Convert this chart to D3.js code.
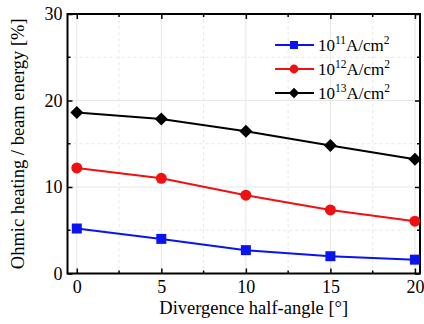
<!DOCTYPE html>
<html>
<head>
<meta charset="utf-8">
<script src="https://cdn.jsdelivr.net/npm/d3@7"></script>
<style>
  html, body { margin: 0; padding: 0; background: #fff; }
  svg { display: block; }
  text { font-family: 'Liberation Serif', 'Times New Roman', Times, 'DejaVu Serif', serif !important; fill: #000; }
</style>
</head>
<body>
<svg id="chart" width="424" height="324"></svg>
<script>
// Divergence half-angle (degrees)
const angles = [0, 5, 10, 15, 20];
// Ohmic heating fraction of beam energy (%) per beam intensity
const series1e11 = [5.2, 4.0, 2.7, 2.0, 1.6];
const series1e12 = [12.2, 11.0, 9.05, 7.35, 6.05];
const series1e13 = [18.6, 17.85, 16.45, 14.8, 13.2];
const seriesExp = ["11", "12", "13"];
const seriesColors = ["#0a14f0", "#f01010", "#000000"];
const seriesShapes = ["square", "circle", "diamond"];
const xTicks = [0, 5, 10, 15, 20];
const yTicks = [0, 10, 20, 30];

const series = [series1e11, series1e12, series1e13].map((vals, i) => ({
  exp: seriesExp[i], color: seriesColors[i], shape: seriesShapes[i],
  pts: angles.map((a, j) => ({ x: a, y: vals[j] }))
}));

const svg = d3.select("#chart");
const L = 67.5, R = 420, T = 14, B = 273.5;
const x = d3.scaleLinear().domain([-0.55, 20.3]).range([L, R]);
const y = d3.scaleLinear().domain([0, 30]).range([B, T]);

// Grid: solid at major ticks, dashed at minor ticks
const g = svg.append("g");
const xMinor = [2.5, 7.5, 12.5, 17.5];
const yMinor = [5, 15, 25];
g.selectAll(".vx").data(xTicks).join("line")
  .attr("x1", d => x(d)).attr("x2", d => x(d)).attr("y1", T).attr("y2", B)
  .attr("stroke", "#e6e6e6").attr("stroke-width", 1);
g.selectAll(".vxm").data(xMinor).join("line")
  .attr("x1", d => x(d)).attr("x2", d => x(d)).attr("y1", T).attr("y2", B)
  .attr("stroke", "#e6e6e6").attr("stroke-width", 1).attr("stroke-dasharray", "3,3");
g.selectAll(".hy").data([10, 20]).join("line")
  .attr("x1", L).attr("x2", R).attr("y1", d => y(d)).attr("y2", d => y(d))
  .attr("stroke", "#e6e6e6").attr("stroke-width", 1);
g.selectAll(".hym").data(yMinor).join("line")
  .attr("x1", L).attr("x2", R).attr("y1", d => y(d)).attr("y2", d => y(d))
  .attr("stroke", "#e6e6e6").attr("stroke-width", 1).attr("stroke-dasharray", "3,3");

// Axes with inward ticks on all four sides
const tickIn = 5, minorIn = 3;
function axisBox() {
  const bottom = d3.axisBottom(x).tickValues(xTicks).tickSize(-tickIn).tickPadding(7).tickFormat(d3.format("d"));
  const left = d3.axisLeft(y).tickValues(yTicks).tickSize(-tickIn).tickPadding(5).tickFormat(d3.format("d"));
  const top = d3.axisTop(x).tickValues(xTicks).tickSize(-tickIn).tickFormat("");
  const right = d3.axisRight(y).tickValues(yTicks).tickSize(-tickIn).tickFormat("");
  const gb = svg.append("g").attr("transform", `translate(0,${B})`).call(bottom);
  const gl = svg.append("g").attr("transform", `translate(${L},0)`).call(left);
  const gt = svg.append("g").attr("transform", `translate(0,${T})`).call(top);
  const gr = svg.append("g").attr("transform", `translate(${R},0)`).call(right);
  // minor ticks
  gb.selectAll(".mn").data(xMinor).join("line").attr("x1", d => x(d)).attr("x2", d => x(d)).attr("y1", 0).attr("y2", -minorIn).attr("stroke", "#000").attr("stroke-width", 1.5);
  gt.selectAll(".mn").data(xMinor).join("line").attr("x1", d => x(d)).attr("x2", d => x(d)).attr("y1", 0).attr("y2", minorIn).attr("stroke", "#000").attr("stroke-width", 1.5);
  gl.selectAll(".mn").data(yMinor).join("line").attr("y1", d => y(d)).attr("y2", d => y(d)).attr("x1", 0).attr("x2", minorIn).attr("stroke", "#000").attr("stroke-width", 1.5);
  gr.selectAll(".mn").data(yMinor).join("line").attr("y1", d => y(d)).attr("y2", d => y(d)).attr("x1", 0).attr("x2", -minorIn).attr("stroke", "#000").attr("stroke-width", 1.5);
  [gb, gl, gt, gr].forEach(a => {
    a.attr("font-family", null).attr("font-size", null);
    a.select(".domain").remove();
    a.selectAll(".tick line").attr("stroke", "#000").attr("stroke-width", 1.5);
    a.selectAll("text").style("font-size", "18px");
  });
}
axisBox();

// Frame
svg.append("rect").attr("x", L).attr("y", T).attr("width", R - L).attr("height", B - T)
  .attr("fill", "none").attr("stroke", "#000").attr("stroke-width", 2);

// Markers
function marker(sel, shape, color, cx, cy, s) {
  if (shape === "square") {
    sel.append("rect").attr("x", cx - s).attr("y", cy - s).attr("width", s * 2).attr("height", s * 2).attr("fill", color);
  } else if (shape === "circle") {
    sel.append("circle").attr("cx", cx).attr("cy", cy).attr("r", s * 1.1).attr("fill", color);
  } else {
    const d = s * 1.3;
    sel.append("path").attr("d", `M${cx},${cy - d}L${cx + d},${cy}L${cx},${cy + d}L${cx - d},${cy}Z`).attr("fill", color);
  }
}

const line = d3.line().x(d => x(d.x)).y(d => y(d.y));
series.forEach(s => {
  svg.append("path").datum(s.pts).attr("d", line).attr("fill", "none")
    .attr("stroke", s.color).attr("stroke-width", 2);
  const mg = svg.append("g");
  s.pts.forEach(p => marker(mg, s.shape, s.color, x(p.x), y(p.y), 5));
});

// Legend
const lg = svg.append("g");
series.forEach((s, i) => {
  const ly = 45 + i * 24;
  lg.append("line").attr("x1", 275).attr("x2", 314).attr("y1", ly).attr("y2", ly)
    .attr("stroke", s.color).attr("stroke-width", 2);
  marker(lg, s.shape, s.color, 294, ly, 4);
  const t = lg.append("text").attr("x", 318).attr("y", ly + 6).style("font-size", "17px");
  t.append("tspan").text("10");
  t.append("tspan").attr("dy", -7).style("font-size", "11.5px").text(s.exp);
  t.append("tspan").attr("dy", 7).text("A/cm");
  t.append("tspan").attr("dy", -7).style("font-size", "11.5px").text("2");
});

// Axis titles
svg.append("text").attr("x", (L + R) / 2 + 10).attr("y", 314).attr("text-anchor", "middle")
  .style("font-size", "18.5px").text("Divergence half-angle [°]");
svg.append("text").attr("transform", `translate(24,${(T + B) / 2}) rotate(-90)`)
  .attr("text-anchor", "middle").style("font-size", "18.5px")
  .text("Ohmic heating / beam energy [%]");
</script>
</body>
</html>
